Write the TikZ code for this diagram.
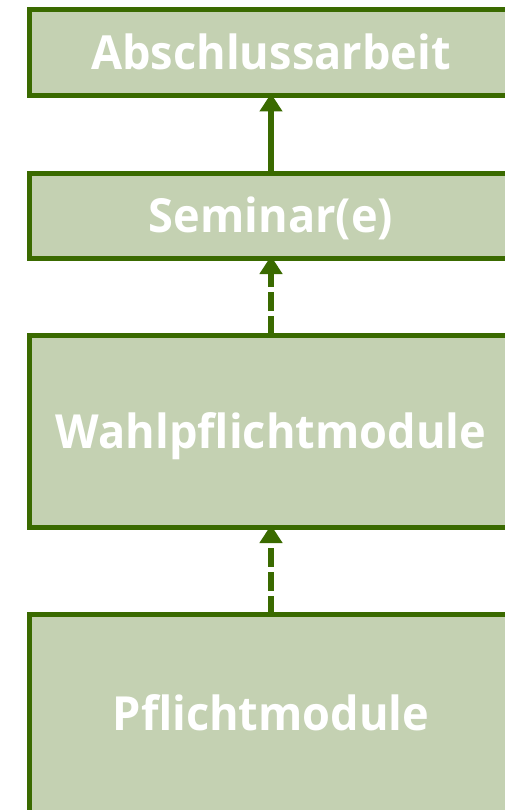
\documentclass[tikz,border=0pt]{standalone}
\usepackage{fontspec}
\setmainfont{Open Sans}[FakeStretch=0.96]
\usetikzlibrary{arrows.meta}
\definecolor{boxfill}{RGB}{196,209,178}
\definecolor{boxline}{RGB}{58,106,0}
\begin{document}
\begin{tikzpicture}[x=1pt,y=-1pt,
  stage/.style={draw=boxline, line width=5pt, fill=boxfill, minimum width=483pt,
    inner sep=0pt, outer sep=0pt, text=white,
    font=\bfseries\fontsize{47}{50}\selectfont, text height=34pt, text depth=0pt},
  conn/.style={draw=boxline, line width=5.5pt, shorten >=-2.5pt,
    -{Triangle[length=18pt,width=22pt]}},
  dashconn/.style={conn, dash pattern=on 19pt off 5pt}]
\useasboundingbox (0,0) rectangle (505,810);
\node[stage, minimum height=86pt] (abs) at (271,53) {Abschlussarbeit};
\node[stage, minimum height=85pt] (sem) at (271,216) {Seminar(e)};
\node[stage, minimum height=192.5pt] (wahl) at (271,431.25) {Wahlpflichtmodule};
\node[stage, minimum height=198pt] (pfl) at (271,713.5) {Pflichtmodule};
\draw[conn] (sem.north) -- (abs.south);
\draw[dashconn] (wahl.north) -- (sem.south);
\draw[dashconn] (pfl.north) -- (wahl.south);
\end{tikzpicture}
\end{document}
